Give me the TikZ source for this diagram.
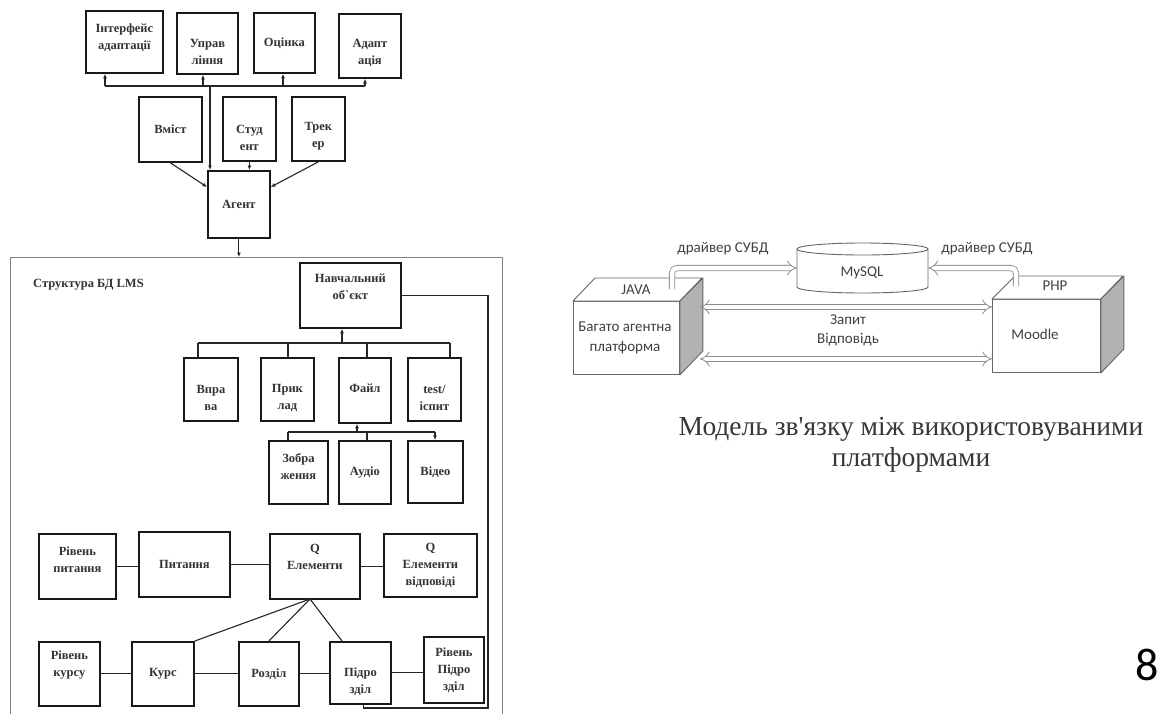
\documentclass[tikz,border=0pt]{standalone}
\usepackage{fontspec}
\setmainfont{Liberation Serif}
\newfontfamily\sansui{Carlito}
\usetikzlibrary{arrows.meta,calc}

% \bx{name}{x1}{y1}{x2}{y2}{text shift}{text}: box given by its corners
\newcommand\bx[7]{%
  \node[box,minimum width={(#4-#2)*1pt},minimum height={(#5-#3)*1pt},
        label={[lbl,yshift=#6pt]center:{#7}}] (#1) at (#2,#3) {};}

\begin{document}
\begin{tikzpicture}[x=1pt,y=-1pt,
  box/.style={draw=black!90, line width=1.8pt, fill=white, anchor=north west, inner sep=0pt},
  lbl/.style={align=center, font=\bfseries\fontsize{12.5}{17}\selectfont, text=black!80, inner sep=0pt},
  wire/.style={draw=black!85, line width=1.1pt},
  tip/.style={-{Latex[length=4.5pt,width=4pt]}},
  rbox/.style={draw=black!60, line width=0.9pt, fill=white, anchor=north west, inner sep=0pt},
  face/.style={draw=black!60, line width=0.9pt, line join=round},
  rtxt/.style={font=\sansui\fontsize{15}{20}\selectfont, text=black!75, align=center, inner sep=0pt},
  pipe/.style={draw=black!45, double=white, double distance=4.5pt, line width=0.8pt, rounded corners=5pt},
]
\useasboundingbox (0,0) rectangle (1163,713);
\clip (0,0) rectangle (1163,713);
\fill[white] (0,0) rectangle (1163,713);

% ---------- agent part ----------
\bx{iface}{85}{10}{162}{72}{4}{Інтерфейс\\адаптації}
\bx{upr}{176}{12}{237}{73}{-9}{Управ\\ління}
\bx{ocin}{253}{12}{314}{72}{0}{Оцінка}
\bx{adapt}{338}{13}{400}{77}{-7}{Адапт\\ація}
\bx{vmist}{138}{96}{201}{161}{0}{Вміст}
\bx{stud}{222}{96}{275}{160}{-9}{Студ\\ент}
\bx{trek}{291}{96}{344}{160}{-7}{Трек\\ер}
\bx{agent}{207}{170}{269}{237}{0}{Агент}

\coordinate (b0) at (210,86);
\coordinate (b1) at (105,86);
\coordinate (b2) at (203,86);
\coordinate (b3) at (283,86);
\coordinate (b4) at (365,86);
\draw[wire] (b1) -- (b4);
\foreach \b/\n in {b1/iface,b2/upr,b3/ocin,b4/adapt}
  \draw[wire,tip] (\b) -- (\b |- \n.south);
\draw[wire,tip] (b0) -- (b0 |- agent.north);
\draw[wire,tip] (vmist.south) -- ($(agent.north west)+(0,17)$);
\draw[wire,tip] (trek.south) -- ($(agent.north east)+(0,17)$);
\draw[wire,tip] (stud.south) -- (stud.south |- agent.north);

% ---------- LMS database structure ----------
\node[draw=black!50, line width=0.8pt, anchor=north west, minimum width=492pt,
      minimum height=470pt, inner sep=0pt] (frame) at (10,257) {};
\draw[wire,tip] (agent.south) -- (agent.south |- frame.north);
\node[lbl, anchor=west] (title) at (33,285) {Структура БД LMS};

\bx{navch}{299}{262}{400}{327}{9}{Навчальний\\об\textasciigrave єкт}
\bx{vpr}{183}{357}{237}{420}{-9}{Впра\\ва}
\bx{prykl}{260}{357}{313}{420}{-9}{Прик\\лад}
\bx{fayl}{338}{357}{390}{422}{2}{Файл}
\bx{test}{407}{357}{460}{420}{-9}{test/\\іспит}
\bx{zobr}{268}{440}{327}{503}{6}{Зобра\\ження}
\bx{audio}{338}{440}{390}{503}{0}{Аудіо}
\bx{video}{407}{440}{462}{502}{0}{Відео}
\bx{rpyt}{38}{533}{115}{598}{7}{Рівень\\питання}
\bx{pyt}{138}{531}{229}{596}{0}{Питання}
\bx{qel}{269}{533}{359}{598}{9}{Q\\Елементи}
\bx{qvid}{383}{533}{476}{596}{0}{Q\\Елементи\\відповіді}
\bx{rkurs}{38}{641}{99}{705}{9}{Рівень\\курсу}
\bx{kurs}{131}{641}{193}{705}{0}{Курс}
\bx{rozd}{238}{641}{298}{705}{0}{Розділ}
\bx{pidr}{329}{641}{390}{703}{-9}{Підро\\зділ}
\bx{rpidr}{423}{636}{483}{702}{0}{Рівень\\Підро\\зділ}

% learning object and its parts
\coordinate (n0) at (342,343);
\coordinate (n1) at (198,343);
\coordinate (n2) at (288,343);
\coordinate (n3) at (367,343);
\coordinate (n4) at (450,343);
\draw[wire] (n1) -- (n4);
\draw[wire,tip] (n0) -- (n0 |- navch.south);
\foreach \c/\n in {n1/vpr,n2/prykl,n3/fayl,n4/test}
  \draw[wire] (\c) -- (\c |- \n.north);

% file kinds
\coordinate (f0) at (357,432);
\coordinate (f1) at (288,432);
\coordinate (f2) at (367,432);
\coordinate (f3) at (435,432);
\draw[wire] (f1) -- (f3);
\draw[wire,tip] (f0) -- (f0 |- fayl.south);
\draw[wire] (f1) -- (f1 |- zobr.north);
\draw[wire] (f2) -- (f2 |- audio.north);
\draw[wire,tip] (f3) -- (f3 |- video.north);

% question row
\draw[wire] (rpyt.east) -- (rpyt.east -| pyt.west);
\draw[wire] (pyt.east) -- (pyt.east -| qel.west);
\draw[wire] (qel.east) -- (qel.east -| qvid.west);

% course row
\draw[wire] (rkurs.east) -- (rkurs.east -| kurs.west);
\draw[wire] (kurs.east) -- (kurs.east -| rozd.west);
\draw[wire] (rozd.east) -- (rozd.east -| pidr.west);
\draw[wire] (pidr.east) -- (pidr.east -| rpidr.west);

\coordinate (qfoot) at (310,599);
\draw[wire] (qfoot) -- (kurs.north east);
\draw[wire] (qfoot) -- (rozd.north);
\draw[wire] (qfoot) -- ($(pidr.north west)+(13,0)$);

\coordinate (loopR) at (488,708);
\draw[wire] (navch.east) -| (loopR) -| ($(pidr.south)+(3,0)$);

% ---------- platform model ----------
\node[rbox, minimum width=106pt, minimum height=73pt] (mas) at (573,301) {};
\draw[face, fill=white] (mas.north west) -- ++(22,-23) -- ++(107,0) -- (mas.north east) -- cycle;
\draw[face, fill=black!30] (mas.north east) -- ++(23,-23) -- ++(0,73) -- (mas.south east) -- cycle;
\node[rtxt] (masT) at (625,338) {Багато агентна\\платформа};
\node[rtxt] (java) at (636,290) {JAVA};

\node[rbox, minimum width=108pt, minimum height=73pt] (moodle) at (992,299) {};
\draw[face, fill=white] (moodle.north west) -- ++(23,-23) -- ++(108,0) -- (moodle.north east) -- cycle;
\draw[face, fill=black!30] (moodle.north east) -- ++(23,-23) -- ++(0,73) -- (moodle.south east) -- cycle;
\node[rtxt] (php) at (1055,286) {PHP};
\node[rtxt] (moodT) at (1035,334) {Moodle};

\node[minimum width=131pt, minimum height=44pt, inner sep=0pt] (db) at (862.5,268) {};
\draw[face, fill=white] (797,249) -- (797,287) arc[start angle=180, end angle=360, x radius=65.5pt, y radius=6pt] -- (928,249);
\draw[face, fill=white] (862.5,249) ellipse [x radius=65.5pt, y radius=6pt];
\node[rtxt] (mysql) at (862,273) {MySQL};

\coordinate (javaPort) at (672,289);
\coordinate (phpPort) at (1016,286);
\draw[pipe,-Implies] (javaPort) |- (db.west);
\draw[pipe,-Implies] (phpPort) |- (db.east);
\node[rtxt] (drv1) at (723,249) {драйвер СУБД};
\node[rtxt] (drv2) at (987,249) {драйвер СУБД};

\draw[pipe,Implies-Implies] ($(mas.north east)+(20,6)$) -- ($(moodle.north west)+(0,8)$);
\draw[pipe,Implies-Implies] ($(mas.south east)+(20,-16)$) -- ($(moodle.south west)+(0,-14)$);
\node[rtxt] (zapyt) at (848,320) {Запит};
\node[rtxt] (vidp) at (848,340) {Відповідь};

\node[font=\fontsize{27.5}{31}\selectfont, text=black!78, align=center] (cap) at (911,445)
  {Модель зв\textquotesingle язку між використовуваними\\платформами};

\node[font=\sansui\fontsize{46}{50}\selectfont] (pg) at (1147,665) {8};
\end{tikzpicture}
\end{document}
